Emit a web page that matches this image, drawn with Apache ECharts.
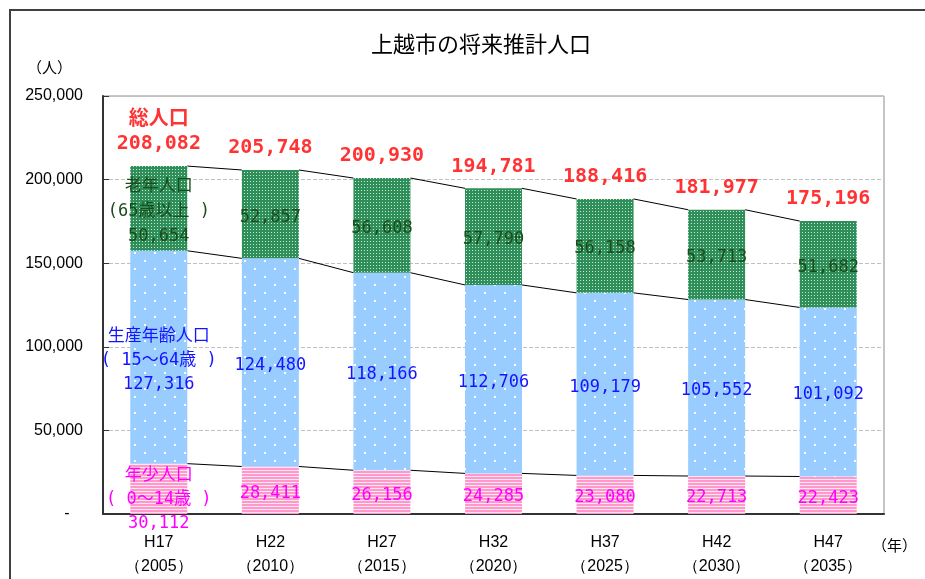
<!DOCTYPE html>
<html>
<head>
<meta charset="UTF-8">
<title>上越市の将来推計人口</title>
<script type="text/javascript" src="https://cdn.jsdelivr.net/npm/echarts@6/dist/echarts.min.js"></script>
</head>
<body style="margin:0">

<div id="box" style="width:925px;height:579px;"></div>

<script type="text/javascript">

// データ
var years = ['H17\n（2005）', 'H22\n（2010）', 'H27\n（2015）', 'H32\n（2020）', 'H37\n（2025）', 'H42\n（2030）', 'H47\n（2035）'];
var young = [30112, 28411, 26156, 24285, 23080, 22713, 22423];    // 年少人口
var working = [127316, 124480, 118166, 112706, 109179, 105552, 101092]; // 生産年齢人口
var old = [50654, 52857, 56608, 57790, 56158, 53713, 51682];     // 老年人口
var total = [208082, 205748, 200930, 194781, 188416, 181977, 175196]; // 総人口

var BAR_W = 57;
var MONO = "'DejaVu Sans Mono','Noto Sans CJK JP'";
var JP = "'Noto Sans CJK JP'";

function fmt(v) {
  return String(v).replace(/\B(?=(\d{3})+(?!\d))/g, ',');
}

// 模様
function pattern(w, h, bg, draw) {
  var c = document.createElement('canvas');
  c.width = w; c.height = h;
  var ctx = c.getContext('2d');
  ctx.fillStyle = bg;
  ctx.fillRect(0, 0, w, h);
  draw(ctx);
  return { image: c, repeat: 'repeat' };
}
var greenPat = pattern(3, 3, '#2f8f5b', function (ctx) {
  ctx.fillStyle = '#c8e6d2';
  ctx.fillRect(1, 1, 1, 1);
});
var bluePat = pattern(20, 16, '#99ccff', function (ctx) {
  ctx.fillStyle = '#ffffff';
  ctx.fillRect(4, 4, 2, 2);
  ctx.fillRect(14, 12, 2, 2);
});
var pinkPat = pattern(4, 3, '#ff99cc', function (ctx) {
  ctx.fillStyle = '#ffe6f2';
  ctx.fillRect(0, 2, 4, 1);
});

// 棒の上端を結ぶ線
var cumYoung = young.slice();
var cumWork = working.map(function (v, i) { return v + young[i]; });
var links = [];
[cumYoung, cumWork, total].forEach(function (arr) {
  for (var i = 0; i < arr.length - 1; i++) links.push([i, arr[i], arr[i + 1]]);
});

var mychart = echarts.init(document.getElementById('box'));

var option = {
  animation: false,
  title: {
    text: '上越市の将来推計人口',
    left: 476, top: 28, textAlign: 'center',
    textStyle: { fontFamily: JP, fontSize: 22, fontWeight: 'normal', color: '#000' }
  },
  graphic: [
    { type: 'rect', shape: { x: 10, y: 10, width: 1000, height: 1000 },
      style: { fill: 'none', stroke: '#404040', lineWidth: 2 } },
    { type: 'text', left: 27, top: 60,
      style: { text: '（人）', font: '15px ' + JP, fill: '#000' } },
    { type: 'text', left: 872, top: 538,
      style: { text: '（年）', font: '15px ' + JP, fill: '#000' } }
  ],
  grid: {
    left: 103, right: 41, top: 96, bottom: 64,
    show: true, borderColor: '#8c8c8c', borderWidth: 1
  },
  xAxis: {
    type: 'category',
    data: years,
    axisLine: { lineStyle: { color: '#333', width: 2 } },
    axisTick: { inside: true, length: 6, lineStyle: { color: '#333' } },
    axisLabel: { margin: 17, color: '#000', fontFamily: 'Liberation Sans', fontSize: 16, lineHeight: 24 }
  },
  yAxis: {
    type: 'value',
    min: 0, max: 250000, interval: 50000,
    axisLine: { show: true, lineStyle: { color: '#333', width: 2 } },
    axisTick: { show: true, inside: true, length: 6, lineStyle: { color: '#333' } },
    splitLine: { lineStyle: { color: '#c0c0c0', type: 'dashed' } },
    axisLabel: {
      margin: 20, color: '#000', fontFamily: 'Liberation Sans', fontSize: 16,
      padding: [6, 0, 0, 0],
      formatter: function (v) { return v === 0 ? '-   ' : fmt(v); }
    }
  },
  series: [
    {
      name: '年少人口', type: 'bar', stack: 'pop', barWidth: BAR_W,
      data: young,
      itemStyle: { color: pinkPat },
      label: {
        show: true, position: 'inside', color: '#ff00ff', fontFamily: MONO, fontSize: 17, lineHeight: 24,
        formatter: function (p) {
          return p.dataIndex === 0 ? '年少人口\n( 0～14歳 )\n' + fmt(p.value) : fmt(p.value);
        }
      },
      labelLayout: function (p) { return p.dataIndex === 0 ? { dy: 11 } : { dy: 3 }; }
    },
    {
      name: '生産年齢人口', type: 'bar', stack: 'pop', barWidth: BAR_W,
      data: working,
      itemStyle: { color: bluePat },
      label: {
        show: true, position: 'inside', color: '#1414ff', fontFamily: MONO, fontSize: 17, lineHeight: 24,
        formatter: function (p) {
          return p.dataIndex === 0 ? '生産年齢人口\n( 15～64歳 )\n' + fmt(p.value) : fmt(p.value);
        }
      },
      labelLayout: { dy: 3 }
    },
    {
      name: '老年人口', type: 'bar', stack: 'pop', barWidth: BAR_W,
      data: old,
      itemStyle: { color: greenPat },
      label: {
        show: true, position: 'inside', color: '#1b4d1b', fontFamily: MONO, fontSize: 17, lineHeight: 25,
        formatter: function (p) {
          return p.dataIndex === 0 ? '老年人口\n(65歳以上 )\n' + fmt(p.value) : fmt(p.value);
        }
      },
      labelLayout: { dy: 3 }
    },
    {
      name: '総人口', type: 'scatter', symbolSize: 0,
      data: total,
      label: {
        show: true, position: 'top', distance: 10, color: '#ff0000',
        fontFamily: MONO, fontSize: 20, fontWeight: 'bold', lineHeight: 24,
        formatter: function (p) {
          return p.dataIndex === 0 ? '総人口\n' + fmt(p.value) : fmt(p.value);
        }
      }
    },
    {
      type: 'custom',
      data: links,
      encode: { x: 0, y: 1 },
      renderItem: function (params, api) {
        var a = api.coord([api.value(0), api.value(1)]);
        var b = api.coord([api.value(0) + 1, api.value(2)]);
        var hw = BAR_W / 2;
        return {
          type: 'line',
          shape: { x1: a[0] + hw, y1: a[1], x2: b[0] - hw, y2: b[1] },
          style: { stroke: '#000', lineWidth: 1 }
        };
      }
    }
  ]
};

mychart.setOption(option);
</script>
</body>
</html>
